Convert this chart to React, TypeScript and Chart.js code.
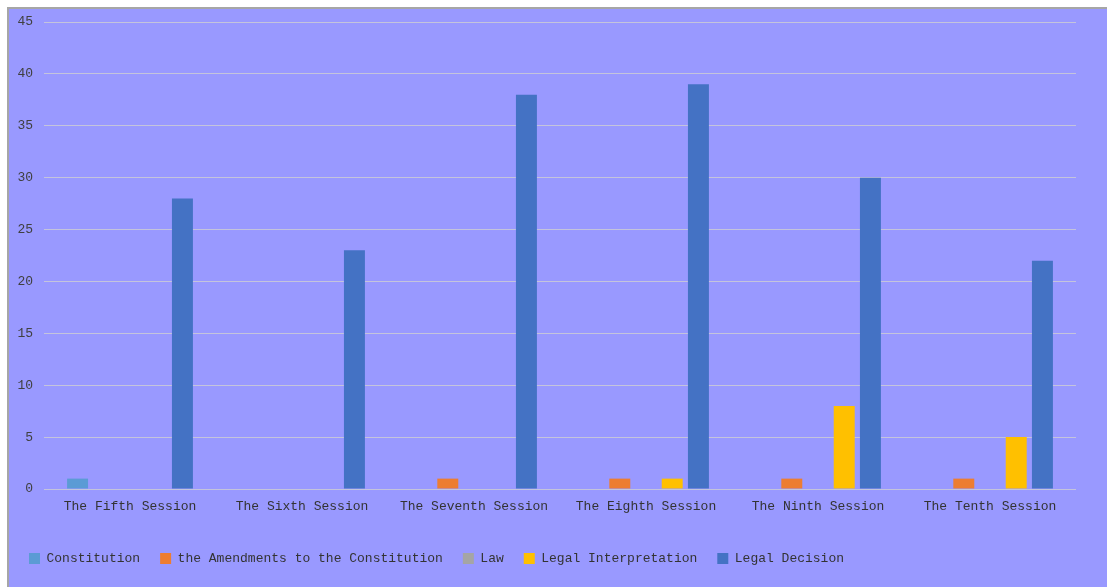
import React, { useEffect, useRef } from "react";
import { Chart, registerables } from "chart.js";

Chart.register(...registerables);

const categories = [
  "The Fifth Session",
  "The Sixth Session",
  "The Seventh Session",
  "The Eighth Session",
  "The Ninth Session",
  "The Tenth Session",
];
const constitution = [1, 0, 0, 0, 0, 0];
const amendments = [0, 0, 1, 1, 1, 1];
const law = [0, 0, 0, 0, 0, 0];
const legalInterpretation = [0, 0, 0, 1, 8, 5];
const legalDecision = [28, 23, 38, 39, 30, 22];
const seriesNames = [
  "Constitution",
  "the Amendments to the Constitution",
  "Law",
  "Legal Interpretation",
  "Legal Decision",
];
const seriesColors = ["#5B9BD5", "#ED7D31", "#A5A5A5", "#FFC000", "#4472C4"];

const FONT = "'Liberation Mono', 'DejaVu Sans Mono', monospace";

export default function App() {
  const ref = useRef<HTMLCanvasElement | null>(null);

  useEffect(() => {
    if (!ref.current) return;
    const values = [constitution, amendments, law, legalInterpretation, legalDecision];
    const chart = new Chart(ref.current, {
      type: "bar",
      data: {
        labels: categories,
        datasets: values.map((v, i) => ({
          label: seriesNames[i],
          data: v,
          backgroundColor: seriesColors[i],
          borderWidth: 0,
          categoryPercentage: 0.762,
          barPercentage: 0.8,
        })),
      },
      options: {
        animation: false,
        responsive: false,
        maintainAspectRatio: false,
        layout: { padding: { top: 13, right: 31, bottom: 12, left: 0 } },
        plugins: {
          tooltip: { enabled: false },
          legend: {
            position: "bottom",
            align: "start",
            labels: {
              boxWidth: 11,
              boxHeight: 11,
              padding: 20,
              color: "#333333",
              font: { family: FONT, size: 13 },
            },
          },
        },
        scales: {
          x: {
            grid: { display: false, drawTicks: false },
            border: { display: false },
            ticks: {
              color: "#333333",
              padding: 10,
              maxRotation: 0,
              font: { family: FONT, size: 13 },
            },
            afterFit: (s: any) => {
              s.height = 43;
              s.paddingLeft = 0;
              s.paddingRight = 0;
            },
          },
          y: {
            min: 0,
            max: 45,
            ticks: {
              stepSize: 5,
              color: "#404040",
              padding: 11,
              font: { family: FONT, size: 13 },
            },
            grid: { color: "#C4C4DC", lineWidth: 1, drawTicks: false },
            border: { display: false },
            afterFit: (s: any) => {
              s.width = 35;
              s.paddingTop = 0;
              s.paddingBottom = 0;
            },
          },
        },
      },
    });
    return () => chart.destroy();
  }, []);

  return (
    <div
      style={{
        position: "absolute",
        left: 0,
        top: 0,
        width: 1107,
        height: 587,
        background: "#ffffff",
        overflow: "hidden",
      }}
    >
      <div
        style={{
          position: "absolute",
          left: 7,
          top: 7,
          width: 1100,
          height: 580,
          boxSizing: "border-box",
          borderLeft: "2px solid #A6A6A6",
          borderTop: "2px solid #A6A6A6",
          background: "#9999FF",
        }}
      >
        <canvas ref={ref} width={1098} height={578} style={{ display: "block" }} />
      </div>
    </div>
  );
}
